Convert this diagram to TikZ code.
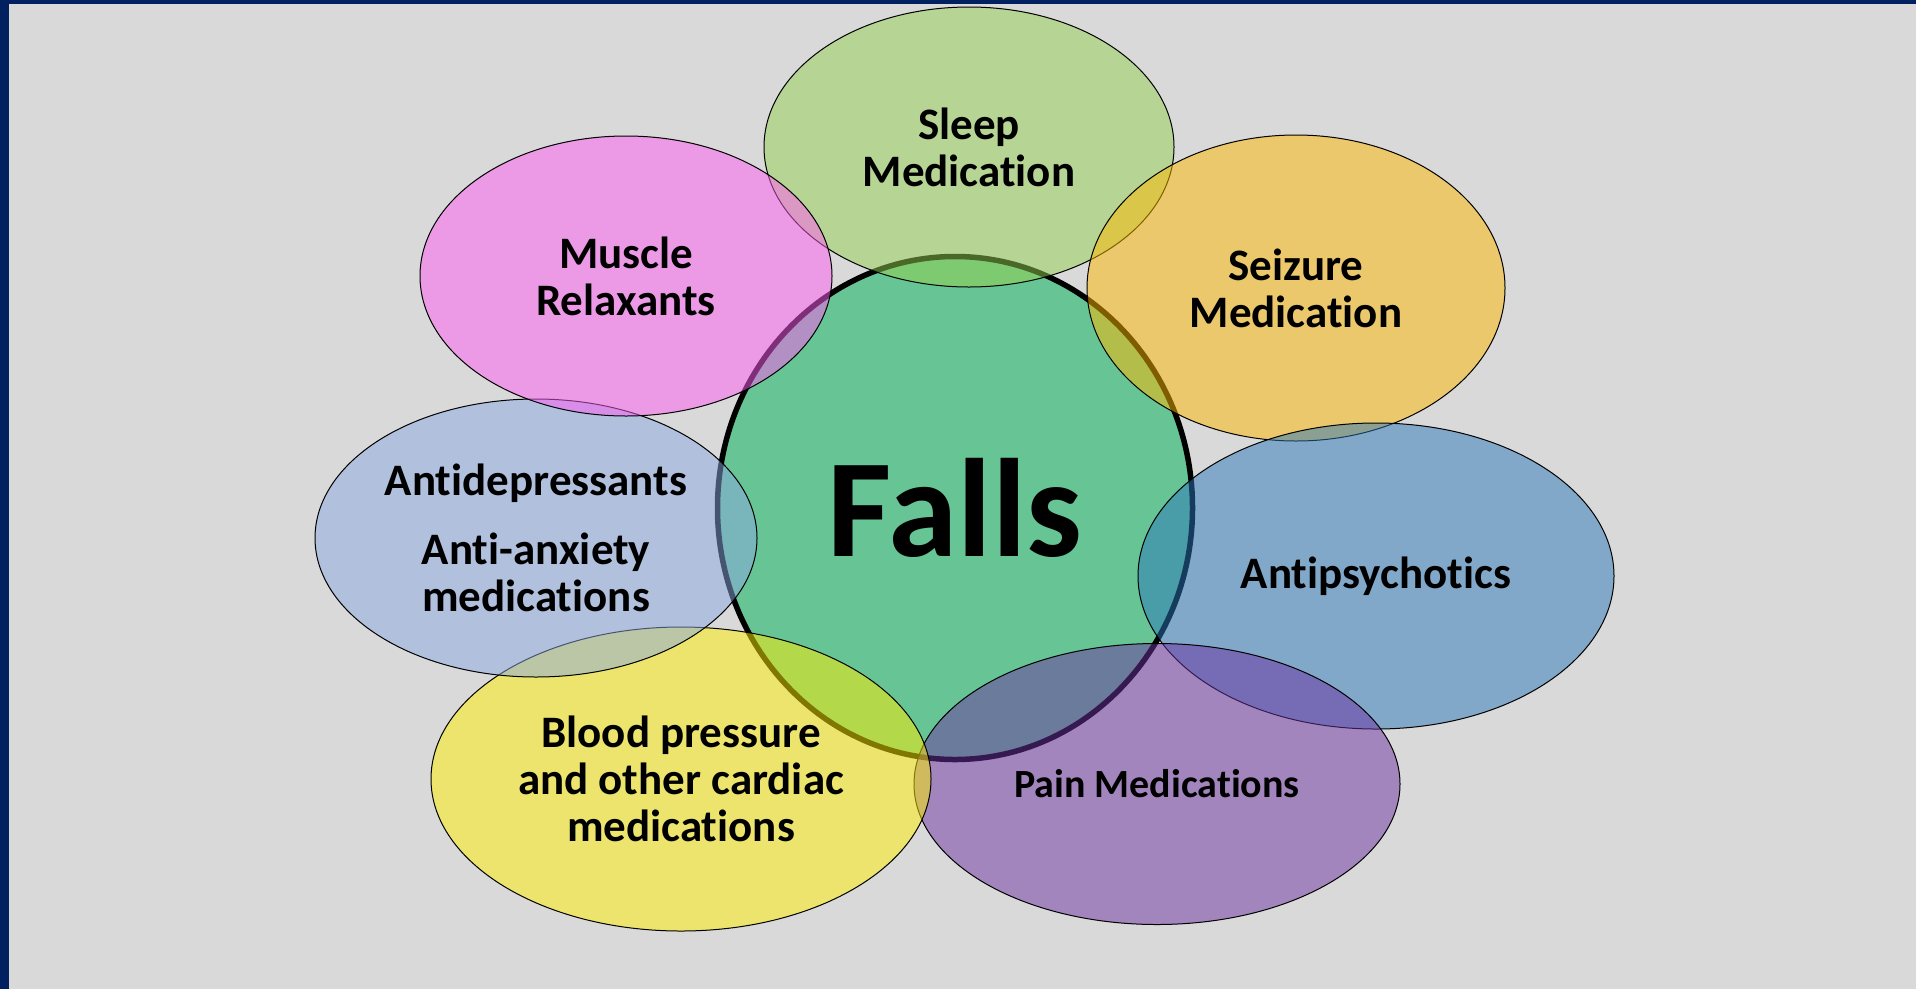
\documentclass[tikz,border=0pt]{standalone}
\usepackage{fontspec}
\setmainfont{Carlito}[Ligatures={NoCommon,NoRequired,NoContextual}]
\usetikzlibrary{shapes.geometric}
\definecolor{bgc}{HTML}{D9D9D9}
\definecolor{navy}{HTML}{002060}
\definecolor{fallsc}{HTML}{67C495}
\definecolor{sleepc}{HTML}{95D14F}
\definecolor{seizc}{HTML}{FFB900}
\definecolor{psychc}{HTML}{2B77BB}
\definecolor{painc}{HTML}{6D33A3}
\definecolor{bloodc}{HTML}{FFEF00}
\definecolor{depc}{HTML}{8BA9E1}
\definecolor{musclec}{HTML}{FF5DF3}

\begin{document}
\begin{tikzpicture}[x=1pt,y=-1pt,
bubble/.style={ellipse,draw,line width=1pt,fill opacity=0.5,text opacity=1,inner sep=0pt,outer sep=0pt,align=center,font=\fontsize{45}{47}\selectfont\bfseries},
hub/.style={ellipse,draw,line width=5.5pt,fill=fallsc,inner sep=0pt,outer sep=0pt,font=\fontsize{140}{142}\selectfont\bfseries}
]
\useasboundingbox (0,0) rectangle (1916,989);
\fill[bgc] (0,0) rectangle (1916,989);
\fill[navy] (0,0) rectangle (1916,4);
\fill[navy] (0,0) rectangle (9,989);

\node[hub,minimum width=475pt,minimum height=503pt] (falls) at (955,508) {Falls};

\node[bubble,fill=sleepc,minimum width=410pt,minimum height=280pt] (sleep) at (969,147) {Sleep\\Medication};
\node[bubble,fill=seizc,minimum width=418pt,minimum height=306pt] (seizure) at (1296,288) {Seizure\\Medication};
\node[bubble,fill=psychc,minimum width=476pt,minimum height=306pt] (psych) at (1376,576) {Antipsychotics};
\node[bubble,fill=painc,minimum width=486pt,minimum height=281pt,font=\fontsize{40}{47}\selectfont\bfseries] (pain) at (1157,784) {Pain Medications};
\node[bubble,fill=bloodc,minimum width=500pt,minimum height=304pt] (blood) at (681,779) {Blood pressure\\and other cardiac\\medications};
\node[bubble,fill=depc,minimum width=442pt,minimum height=278pt] (antidep) at (536,538) {Antidepressants\\[22pt]Anti-anxiety\\medications};
\node[bubble,fill=musclec,minimum width=412pt,minimum height=280pt] (muscle) at (626,276) {Muscle\\Relaxants};
\end{tikzpicture}
\end{document}
